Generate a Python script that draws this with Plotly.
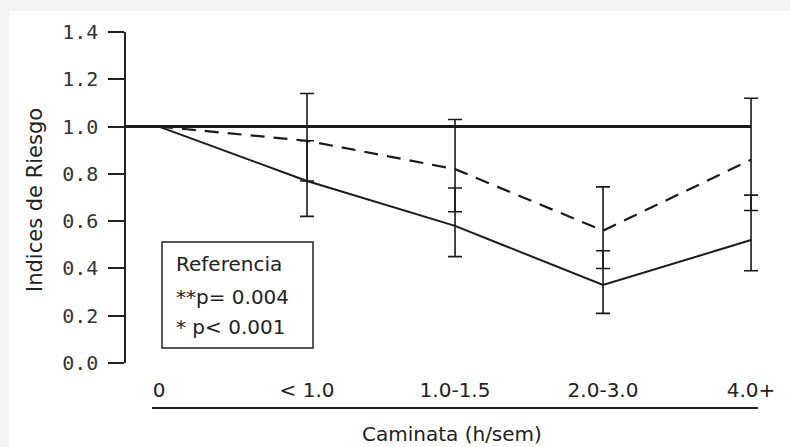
import plotly.graph_objects as go

# ---- data ----
categories = ["0", "< 1.0", "1.0-1.5", "2.0-3.0", "4.0+"]

solid_values = [1.0, 0.77, 0.58, 0.33, 0.52]
solid_lower = [None, 0.62, 0.45, 0.21, 0.39]
solid_upper = [None, 0.94, 0.74, 0.475, 0.71]

dashed_values = [1.0, 0.94, 0.82, 0.56, 0.86]
dashed_lower = [None, 0.77, 0.64, 0.40, 0.645]
dashed_upper = [None, 1.14, 1.03, 0.745, 1.12]

reference_value = 1.0

y_tickvals = [0.0, 0.2, 0.4, 0.6, 0.8, 1.0, 1.2, 1.4]
y_ticktext = ["0.0", "0.2", "0.4", "0.6", "0.8", "1.0", "1.2", "1.4"]

legend_lines = ["Referencia", "**p= 0.004", "* p< 0.001"]

x_title = "Caminata (h/sem)"
y_title = "Indices de Riesgo"


def err(vals, lo, hi):
    plus = [None if h is None else h - v for v, h in zip(vals, hi)]
    minus = [None if l is None else v - l for v, l in zip(vals, lo)]
    return plus, minus


W, H = 790, 447
L, R, T, B = 126, 20, 32, 84
pw, ph = W - L - R, H - T - B


def px(x):
    return (x - L) / pw


def py(y):
    return (H - B - y) / ph


fig = go.Figure()

# reference line at 1.0 from axis to last category
fig.add_shape(type="line", xref="x", yref="y", x0=-0.223, x1=len(categories) - 1,
              y0=reference_value, y1=reference_value,
              line=dict(color="#1a1a1a", width=3), layer="above")

sp, sm = err(solid_values, solid_lower, solid_upper)
dp, dm = err(dashed_values, dashed_lower, dashed_upper)

fig.add_trace(go.Scatter(
    x=categories, y=dashed_values, mode="lines",
    line=dict(color="#1a1a1a", width=2.2, dash="14px,9px"),
    error_y=dict(type="data", array=dp, arrayminus=dm, symmetric=False,
                 color="#1a1a1a", thickness=1.6, width=7),
    showlegend=False, hoverinfo="skip"))

fig.add_trace(go.Scatter(
    x=categories, y=solid_values, mode="lines",
    line=dict(color="#1a1a1a", width=2),
    error_y=dict(type="data", array=sp, arrayminus=sm, symmetric=False,
                 color="#1a1a1a", thickness=1.6, width=7),
    showlegend=False, hoverinfo="skip"))

# white panel over light grey page
fig.add_shape(type="rect", xref="paper", yref="paper",
              x0=px(9), x1=px(800), y0=py(460), y1=py(11),
              fillcolor="white", line=dict(width=0), layer="below")

# line under category labels
fig.add_shape(type="line", xref="paper", yref="paper",
              x0=px(152), x1=px(758), y0=py(408), y1=py(408),
              line=dict(color="#222", width=2))

# legend-like box
fig.add_shape(type="rect", xref="paper", yref="paper",
              x0=px(162), x1=px(313), y0=py(348), y1=py(242),
              fillcolor="white", line=dict(color="#222", width=1.5))

for txt, yy in zip(legend_lines, [264, 297, 327]):
    fig.add_annotation(text=txt, xref="paper", yref="paper", x=px(174), y=py(yy),
                       xanchor="left", yanchor="middle", showarrow=False,
                       font=dict(family="DejaVu Sans", size=20, color="#222"))

fig.add_annotation(text=x_title, xref="paper", yref="paper", x=px(452), y=py(434),
                   xanchor="center", yanchor="middle", showarrow=False,
                   font=dict(family="DejaVu Sans", size=20, color="#222"))
fig.add_annotation(text=y_title, xref="paper", yref="paper", x=px(35), y=py(200),
                   xanchor="center", yanchor="middle", showarrow=False, textangle=-90,
                   font=dict(family="DejaVu Sans", size=21, color="#222"))

fig.update_layout(
    width=W, height=H,
    margin=dict(l=L, r=R, t=T, b=B, pad=0),
    paper_bgcolor="#f3f3f3", plot_bgcolor="white",
    xaxis=dict(type="category", categoryorder="array", categoryarray=categories,
               range=[-0.223, 4.128], showgrid=False, zeroline=False, showline=False,
               ticks="", ticklabelstandoff=13,
               tickfont=dict(family="DejaVu Sans", size=20, color="#222")),
    yaxis=dict(range=[0, 1.4], tickvals=y_tickvals, ticktext=y_ticktext,
               showgrid=False, zeroline=False, showline=True, linecolor="#222",
               linewidth=1.5, ticks="outside", ticklen=16, tickwidth=1.5,
               tickcolor="#222", ticklabelstandoff=6,
               tickfont=dict(family="DejaVu Sans Mono", size=20, color="#333")),
)

fig.write_html(
    "out.html",
    config={"displayModeBar": False},
    post_script="document.body.style.margin='0';document.body.style.overflow='hidden';"
                "document.body.style.background='#f3f3f3';",
)
